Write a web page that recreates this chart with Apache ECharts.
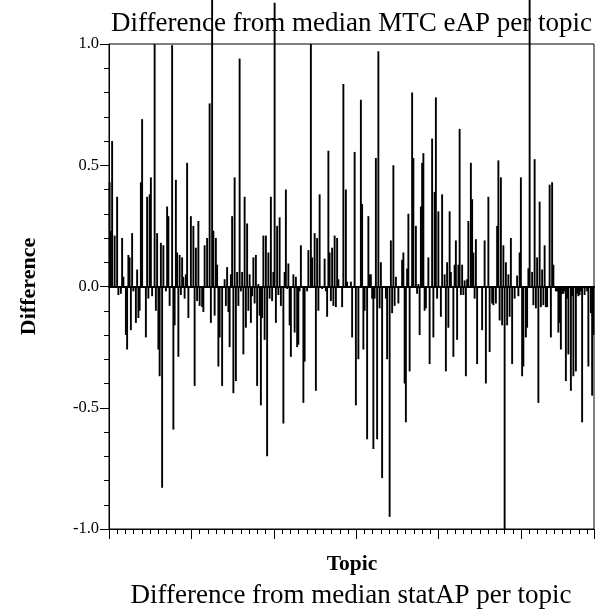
<!DOCTYPE html>
<html>
<head>
<meta charset="utf-8">
<script src="https://cdn.jsdelivr.net/npm/echarts@6/dist/echarts.min.js"></script>
<style>html,body{margin:0;padding:0;background:#fff;}#chart{width:595px;height:616px;}</style>
</head>
<body>
<div id="chart"></div>
<script>
// Difference per topic (MTC eAP vs median), left to right
const diffValues = [
 0.43,0.23,0.60,0,0.21,0,0.37,-0.035,0,-0.03,
 0.20,0.04,0,-0.20,-0.26,0.13,0.12,-0.18,0.22,-0.02,
 0,-0.15,0.07,-0.13,-0.10,0.43,0.69,0,0,-0.21,
 0.37,-0.05,0.38,0.45,-0.04,0,1.0,-0.10,0.22,-0.26,
 -0.37,0.18,-0.83,0.17,0,-0.02,0.33,0.29,-0.08,0,
 0.995,-0.59,-0.16,0.44,0.14,-0.29,0.13,-0.035,0.12,0.04,
 -0.05,0.05,0.51,-0.13,0,0.29,0,0.25,-0.41,0.16,
 -0.06,0.27,-0.08,0,-0.085,-0.105,0.17,0,0.20,0,
 0.755,-0.15,1.2,0.23,-0.12,0.20,0.09,-0.33,-0.21,0,
 -0.41,0,0.03,-0.08,0.08,-0.105,-0.25,0.05,
 0.29,-0.44,0.45,-0.39,0.06,-0.08,0.94,-0.02,0.06,-0.28,
 0.37,-0.17,0.26,-0.10,0.05,-0.15,-0.04,0.12,-0.07,0.13,
 -0.41,0.01,-0.12,-0.49,-0.13,0.21,-0.22,0.21,-0.70,0.14,
 -0.05,0.37,-0.06,0.06,1.17,-0.15,0.25,-0.035,0.285,-0.08,
 0,-0.565,0.06,0.40,-0.01,0.095,-0.16,-0.29,0,0.05,
 -0.19,0.04,-0.25,-0.24,-0.02,0.17,0,-0.48,-0.31,0,
 -0.02,0.15,0,1.0,0.12,0,0.22,-0.43,0.20,-0.10,
 0.38,0,-0.01,0,0.115,-0.02,-0.125,0.56,0.14,-0.06,
 0.16,-0.08,0.21,-0.085,0.20,0.03,0,0,-0.085,0.835,
 0,0.40,0.02,0,0,0.02,-0.21,
 0,0.555,-0.49,0,-0.30,0,0.77,0.34,-0.26,-0.10,
 0,-0.63,0.29,0.05,0.05,-0.05,-0.67,-0.05,0.53,-0.63,
 0.97,-0.09,0.10,-0.79,0,0,-0.05,-0.30,0,-0.95,
 0.19,-0.11,0.50,-0.08,0.04,0,-0.07,0,0,0.11,
 0.14,-0.40,-0.56,0.074,0.30,-0.35,0,0.80,0.53,0,
 0.25,-0.03,0.01,-0.20,0.33,0.51,0.55,-0.10,-0.09,0,
 0.12,-0.32,0,0.61,-0.21,0.39,0.78,-0.05,0.31,0,
 -0.125,0.38,0,0.05,-0.35,0.10,-0.17,0.31,0.06,0,
 -0.29,0.09,0.19,-0.22,0.09,0.65,-0.035,0.09,-0.035,0.025,
 -0.37,0.03,0.27,0,0.51,0.36,0.14,-0.05,
 0.195,-0.32,0,0,0,-0.18,0,0.19,-0.40,0,
 0.37,-0.27,0,-0.07,-0.077,0,-0.07,0.25,0.52,-0.14,
 0.45,-0.16,0.17,-1.0,0.10,-0.16,0.05,-0.125,0.20,-0.32,
 0,-0.05,0,0.045,-0.04,0.14,0.45,-0.37,-0.33,0,
 -0.21,-0.17,0.075,1.2,0,0.06,-0.077,0.525,-0.09,0.12,
 -0.48,0.35,-0.085,0.07,-0.077,0.17,-0.085,-0.085,0,0.42,
 -0.21,0.43,0.09,0,-0.02,-0.02,-0.19,-0.15,-0.26,-0.03,
 -0.03,-0.02,-0.39,-0.05,-0.28,0,-0.43,-0.04,-0.37,0,
 -0.35,-0.03,-0.04,-0.035,-0.02,-0.56,0,-0.035,0,-0.02,
 -0.33,0,-0.11,-0.45,-0.20
];
const topicCategories = diffValues.map((_, i) => String(i + 1));
const yTicks = [-1.0, -0.5, 0.0, 0.5, 1.0];
const xTickRange = [0, 294.24];
const xTickStep = 50;

const chart = echarts.init(document.getElementById('chart'), null, {renderer: 'canvas'});
const serif = 'Liberation Serif';
const G = {left: 109, right: 1, top: 44, bottom: 87};
chart.setOption({
  animation: false,
  backgroundColor: '#fff',
  grid: {left: G.left, right: G.right, top: G.top, bottom: G.bottom, show: true, borderColor: '#000', borderWidth: 1, backgroundColor: 'transparent'},
  xAxis: [
    {type: 'category', data: topicCategories, position: 'bottom',
     axisLine: {show: true, onZero: true, lineStyle: {color: '#000', width: 2}},
     axisTick: {show: false}, axisLabel: {show: false}, splitLine: {show: false}},
    {type: 'value', min: xTickRange[0], max: xTickRange[1], interval: xTickStep, position: 'bottom',
     axisLine: {show: true, onZero: false, lineStyle: {color: '#000', width: 1}},
     axisTick: {show: true, length: 10, lineStyle: {color: '#000', width: 1}},
     minorTick: {show: true, splitNumber: 10, length: 5, lineStyle: {color: '#000', width: 1}},
     axisLabel: {show: false}, splitLine: {show: false}, minorSplitLine: {show: false}}
  ],
  yAxis: {
    type: 'value', min: yTicks[0], max: yTicks[yTicks.length - 1], interval: 0.5,
    axisLine: {show: true, lineStyle: {color: '#000', width: 1}},
    axisTick: {show: true, length: 9, lineStyle: {color: '#000', width: 1}},
    minorTick: {show: true, splitNumber: 5, length: 5, lineStyle: {color: '#000', width: 1}},
    axisLabel: {margin: 10, color: '#000', fontFamily: serif, fontSize: 16.5, formatter: v => v.toFixed(1)},
    splitLine: {show: false}
  },
  series: [{
    type: 'bar', xAxisIndex: 0, data: diffValues, barWidth: 1.9, clip: false, silent: true,
    itemStyle: {color: '#000'}
  }],
  graphic: [
    {type: 'text', x: 351.5, y: 23.5, silent: true,
     style: {text: 'Difference from median MTC eAP per topic', fill: '#000', font: '27px "Liberation Serif"', textAlign: 'center', textVerticalAlign: 'middle'}},
    {type: 'text', x: 352, y: 564.5, silent: true,
     style: {text: 'Topic', fill: '#000', font: 'bold 21.5px "Liberation Serif"', textAlign: 'center', textVerticalAlign: 'middle'}},
    {type: 'text', x: 29.5, y: 286.5, rotation: Math.PI / 2, silent: true,
     style: {text: 'Difference', fill: '#000', font: 'bold 22px "Liberation Serif"', textAlign: 'center', textVerticalAlign: 'middle'}},
    {type: 'text', x: 351, y: 596, silent: true,
     style: {text: 'Difference from median statAP per topic', fill: '#000', font: '27px "Liberation Serif"', textAlign: 'center', textVerticalAlign: 'middle'}}
  ]
});
</script>
</body>
</html>
